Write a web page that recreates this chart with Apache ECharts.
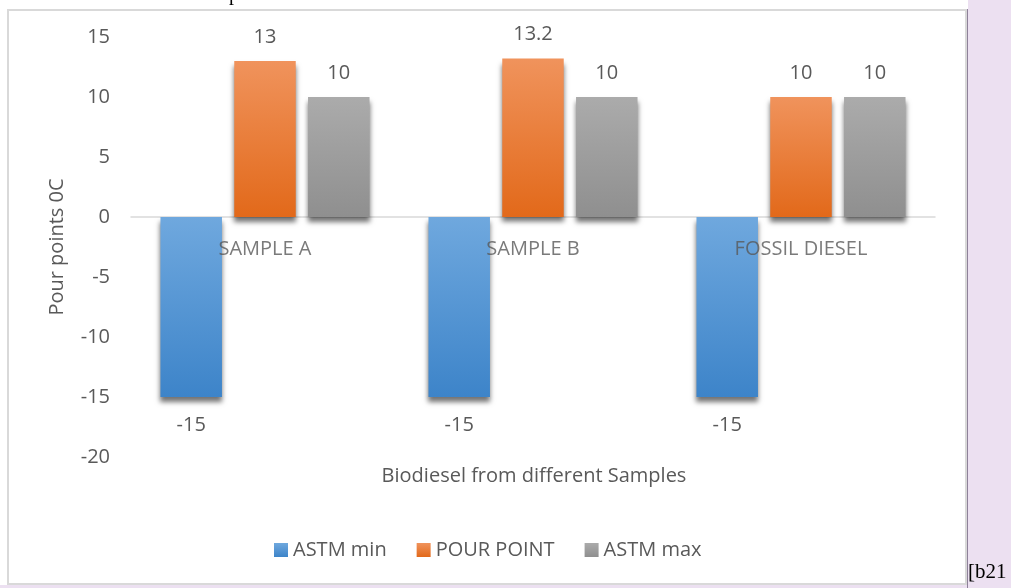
<!DOCTYPE html>
<html>
<head>
<meta charset="utf-8">
<style>
  html, body { margin: 0; padding: 0; background: #ffffff; }
  #chart { width: 1011px; height: 588px; }
</style>
<script src="https://cdn.jsdelivr.net/npm/echarts@6/dist/echarts.min.js"></script>
</head>
<body>
<div id="chart"></div>
<script>
// Pour point of biodiesel samples against the ASTM limits
const categories = ['SAMPLE A', 'SAMPLE B', 'FOSSIL DIESEL'];
const astmMin = [-15, -15, -15];
const pourPoint = [13, 13.2, 10];
const astmMax = [10, 10, 10];
const yTicks = { min: -20, max: 15, interval: 5 };

const FONT = '"Open Sans", "Liberation Sans", sans-serif';
const TXT = '#595959';

function grad(top, bottom) {
  return new echarts.graphic.LinearGradient(0, 0, 0, 1, [
    { offset: 0, color: top },
    { offset: 1, color: bottom }
  ]);
}

function barSeries(name, data, top, bottom, pos, dist) {
  return {
    name: name,
    type: 'bar',
    data: data,
    barGap: '20%',
    barCategoryGap: '22%',
    itemStyle: {
      color: grad(top, bottom),
      shadowColor: 'rgba(0,0,0,0.55)',
      shadowBlur: 5,
      shadowOffsetY: 5
    },
    label: {
      show: true,
      position: pos,
      distance: dist,
      color: TXT,
      fontFamily: FONT,
      fontSize: 20
    }
  };
}

const chart = echarts.init(document.getElementById('chart'), null, { renderer: 'canvas' });

chart.setOption({
  backgroundColor: '#ffffff',
  animation: false,
  color: ['#5b9bd5', '#ed7d31', '#a5a5a5'],
  grid: { left: 131, right: 76, top: 37, bottom: 131 },
  xAxis: {
    type: 'category',
    data: categories,
    axisLine: { onZero: true, lineStyle: { color: '#d9d9d9', width: 1.5 } },
    axisTick: { show: false },
    axisLabel: { show: false },
    splitLine: { show: false }
  },
  yAxis: {
    type: 'value',
    min: yTicks.min,
    max: yTicks.max,
    interval: yTicks.interval,
    axisLine: { show: false },
    axisTick: { show: false },
    splitLine: { show: false },
    axisLabel: { color: TXT, fontFamily: FONT, fontSize: 20, margin: 21 }
  },
  legend: {
    left: 269,
    top: 535,
    itemWidth: 14,
    itemHeight: 14,
    itemGap: 30,
    icon: 'rect',
    textStyle: { color: TXT, fontFamily: FONT, fontSize: 20 },
    data: ['ASTM min', 'POUR POINT', 'ASTM max']
  },
  series: [
    barSeries('ASTM min', astmMin, '#6fa8de', '#3d84c9', 'bottom', 18),
    barSeries('POUR POINT', pourPoint, '#f0935c', '#e2691a', 'top', 14),
    barSeries('ASTM max', astmMax, '#ababab', '#8f8f8f', 'top', 14),
    // category names sit just under the zero line, over the bars
    {
      name: 'category-labels',
      type: 'scatter',
      z: 10,
      symbolSize: 0,
      silent: true,
      data: categories.map(function (c) { return [c, 0]; }),
      label: {
        show: true,
        position: 'bottom',
        distance: 22,
        formatter: function (p) { return p.value[0]; },
        color: TXT,
        fontFamily: FONT,
        fontSize: 20
      }
    }
  ],
  graphic: [
    // page strips around the chart frame
    { type: 'rect', z: -10, shape: { x: 968, y: 0, width: 43, height: 588 }, style: { fill: '#ece0f1' } },
    { type: 'rect', z: -10, shape: { x: 0, y: 585, width: 1011, height: 3 }, style: { fill: '#ece0f1' } },
    { type: 'rect', z: -9, shape: { x: 967, y: 9, width: 1, height: 579 }, style: { fill: '#8e8199' } },
    // chart frame
    { type: 'rect', z: -8, shape: { x: 8, y: 10, width: 958, height: 574 }, style: { fill: 'none', stroke: '#d9d9d9', lineWidth: 2 } },
    // axis titles
    {
      type: 'text', x: 57, y: 247, rotation: Math.PI / 2,
      style: { text: 'Pour points 0C', fill: TXT, font: '20px ' + FONT, align: 'center', verticalAlign: 'middle' }
    },
    {
      type: 'text', x: 534, y: 476,
      style: { text: 'Biodiesel from different Samples', fill: TXT, font: '20px ' + FONT, align: 'center', verticalAlign: 'middle' }
    },
    // surrounding document text
    {
      type: 'text', x: 968, y: 583,
      style: { text: '[b21', fill: '#000000', font: '21px "Liberation Serif", serif', align: 'left', verticalAlign: 'bottom' }
    },
    {
      type: 'text', x: 229, y: 5,
      style: { text: 'p', fill: '#000000', font: '20px "Liberation Serif", serif', align: 'left', verticalAlign: 'bottom' }
    }
  ]
});
</script>
</body>
</html>
